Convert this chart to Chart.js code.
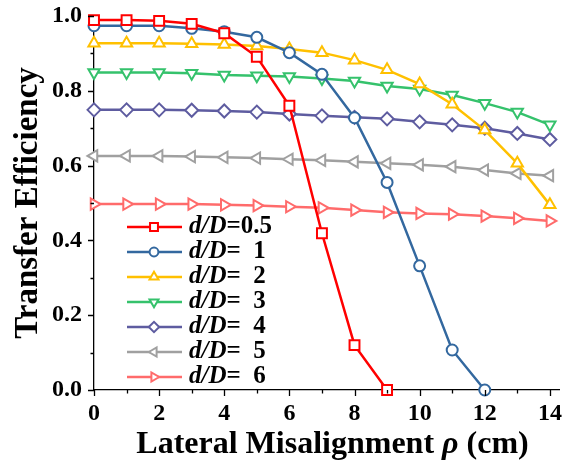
<!DOCTYPE html>
<html>
<head>
<meta charset="utf-8">
<script src="https://cdn.jsdelivr.net/npm/chart.js@4.4.1/dist/chart.umd.min.js"></script>
<style>
  body { margin: 0; background: #fff; }
  #wrap { width: 578px; height: 466px; }
</style>
</head>
<body>
<div id="wrap"><canvas id="chartEficiencia"></canvas></div>
<script>
// lateral misalignment rho (cm)
const rho = [0, 1, 2, 3, 4, 5, 6, 7, 8, 9, 10, 11, 12, 13, 14];

// transfer efficiency per d/D ratio
const effD05 = [0.989, 0.989, 0.987, 0.979, 0.954, 0.891, 0.760, 0.419, 0.120, 0.0];
const effD1 = [0.974, 0.974, 0.974, 0.967, 0.958, 0.943, 0.902, 0.844, 0.728, 0.555, 0.332, 0.107, 0.0];
const effD2 = [0.927, 0.927, 0.927, 0.926, 0.924, 0.920, 0.912, 0.902, 0.882, 0.856, 0.818, 0.764, 0.695, 0.606, 0.495];
const effD3 = [0.849, 0.849, 0.849, 0.847, 0.842, 0.840, 0.838, 0.833, 0.826, 0.813, 0.805, 0.789, 0.767, 0.743, 0.709];
const effD4 = [0.749, 0.749, 0.749, 0.748, 0.746, 0.743, 0.738, 0.733, 0.729, 0.725, 0.717, 0.709, 0.700, 0.686, 0.670];
const effD5 = [0.626, 0.626, 0.626, 0.624, 0.622, 0.620, 0.617, 0.614, 0.610, 0.606, 0.602, 0.597, 0.588, 0.579, 0.573];
const effD6 = [0.497, 0.497, 0.497, 0.497, 0.495, 0.493, 0.490, 0.487, 0.481, 0.475, 0.472, 0.470, 0.465, 0.459, 0.452];

const serieLabels = ['d/D=0.5', 'd/D=  1', 'd/D=  2', 'd/D=  3', 'd/D=  4', 'd/D=  5', 'd/D=  6'];
const serieColors = ['#FF0000', '#33689F', '#FFC000', '#35C26C', '#5E5CA0', '#A0A0A0', '#FF6B6B'];

const yTicks = [0, 0.2, 0.4, 0.6, 0.8, 1.0];
const xTicks = [0, 2, 4, 6, 8, 10, 12, 14];

const serif = '"Liberation Serif", "Times New Roman", serif';

function toPoints(vals) {
  return vals.map((v, i) => ({ x: rho[i], y: v }));
}

function makeSet(i, vals, style, rotation, radius) {
  return {
    label: serieLabels[i],
    data: toPoints(vals),
    borderColor: serieColors[i],
    backgroundColor: '#fff',
    borderWidth: 2.5,
    pointStyle: style,
    pointRotation: rotation,
    pointRadius: radius,
    pointBorderWidth: 2,
    pointBackgroundColor: '#fff',
    pointBorderColor: serieColors[i],
    tension: 0,
    clip: false
  };
}

// tick marks: long on labelled values, short in between
const tickMarks = {
  id: 'tickMarks',
  afterDraw(chart) {
    const { ctx, scales: { x, y } } = chart;
    ctx.save();
    ctx.strokeStyle = '#000';
    ctx.lineWidth = 1.3;
    ctx.beginPath();
    for (let k = 0; k <= 10; k++) {
      const py = Math.round(y.getPixelForValue(k / 10)) + 0.5;
      const len = k % 2 === 0 ? 6 : 3.5;
      ctx.moveTo(x.left - len, py);
      ctx.lineTo(x.left, py);
    }
    for (let k = 0; k <= 14; k++) {
      const px = Math.round(x.getPixelForValue(k)) + 0.5;
      const len = k % 2 === 0 ? 6 : 3.5;
      ctx.moveTo(px, y.bottom);
      ctx.lineTo(px, y.bottom + len);
    }
    ctx.stroke();
    ctx.restore();
  }
};

// legend with italic d/D, and x title with italic rho
const customText = {
  id: 'customText',
  afterDraw(chart) {
    const { ctx, chartArea } = chart;
    ctx.save();
    const lx = chartArea.left + 33;
    const ly = chartArea.top + 211;
    chart.data.datasets.forEach((ds, i) => {
      const yy = ly + i * 25;
      ctx.strokeStyle = ds.borderColor;
      ctx.lineWidth = ds.borderWidth;
      ctx.beginPath();
      ctx.moveTo(lx, yy);
      ctx.lineTo(lx + 55, yy);
      ctx.stroke();
      ctx.fillStyle = '#fff';
      ctx.lineWidth = 2;
      Chart.helpers.drawPoint(ctx, {
        pointStyle: ds.pointStyle,
        rotation: ds.pointRotation,
        radius: ds.pointRadius * 0.8,
        borderWidth: 2
      }, lx + 27, yy);
      ctx.fillStyle = '#000';
      ctx.textBaseline = 'middle';
      ctx.textAlign = 'left';
      ctx.font = 'italic bold 25px ' + serif;
      ctx.fillText('d/D', lx + 62, yy);
      const w = ctx.measureText('d/D').width;
      ctx.font = 'bold 25px ' + serif;
      ctx.fillText(ds.label.slice(3), lx + 62 + w, yy);
    });

    const parts = [
      ['Lateral Misalignment ', 'bold 32px ' + serif],
      ['\u03C1', 'italic bold 32px ' + serif],
      [' (cm)', 'bold 32px ' + serif]
    ];
    let total = 0;
    parts.forEach(p => { ctx.font = p[1]; total += ctx.measureText(p[0]).width; });
    let tx = (chartArea.left + chartArea.right) / 2 - total / 2 + 6;
    const ty = chart.height - 13;
    ctx.textBaseline = 'alphabetic';
    parts.forEach(p => {
      ctx.font = p[1];
      ctx.fillText(p[0], tx, ty);
      tx += ctx.measureText(p[0]).width;
    });
    ctx.restore();
  }
};

const ctx = document.getElementById('chartEficiencia');

new Chart(ctx, {
  type: 'line',
  data: {
    datasets: [
      makeSet(0, effD05, 'rect', 0, 7),
      makeSet(1, effD1, 'circle', 0, 5.5),
      makeSet(2, effD2, 'triangle', 0, 6.5),
      makeSet(3, effD3, 'triangle', 180, 6.5),
      makeSet(4, effD4, 'rectRot', 0, 6.5),
      makeSet(5, effD5, 'triangle', 270, 6.5),
      makeSet(6, effD6, 'triangle', 90, 6.5)
    ]
  },
  options: {
    responsive: true,
    maintainAspectRatio: false,
    animation: false,
    layout: { padding: { top: 16, right: 19, left: 0, bottom: 0 } },
    plugins: {
      legend: { display: false },
      tooltip: { enabled: false }
    },
    scales: {
      x: {
        type: 'linear',
        min: 0,
        max: 14.28,
        afterBuildTicks: (scale) => { scale.ticks = xTicks.map(v => ({ value: v })); },
        afterFit: (scale) => {
          scale.height = 76;
          scale.paddingLeft = 0;
          scale.paddingRight = 0;
        },
        grid: { display: false, drawTicks: false },
        border: { display: true, color: '#000', width: 1.3 },
        ticks: {
          padding: 9,
          color: '#000',
          font: { family: serif, size: 24, weight: 'bold' },
          maxRotation: 0
        },
        title: { display: false }
      },
      y: {
        min: 0,
        max: 1,
        afterBuildTicks: (scale) => { scale.ticks = yTicks.map(v => ({ value: v })); },
        afterFit: (scale) => {
          scale.width = 94;
          scale.paddingTop = 0;
          scale.paddingBottom = 0;
        },
        grid: { display: false, drawTicks: false },
        border: { display: true, color: '#000', width: 1.3 },
        ticks: {
          padding: 12,
          color: '#000',
          font: { family: serif, size: 24, weight: 'bold' },
          callback: (v) => Number(v).toFixed(1)
        },
        title: {
          display: true,
          text: 'Transfer Efficiency',
          color: '#000',
          font: { family: serif, size: 33, weight: 'bold' },
          padding: { top: 9, bottom: 0 }
        }
      }
    }
  },
  plugins: [tickMarks, customText]
});
</script>
</body>
</html>
